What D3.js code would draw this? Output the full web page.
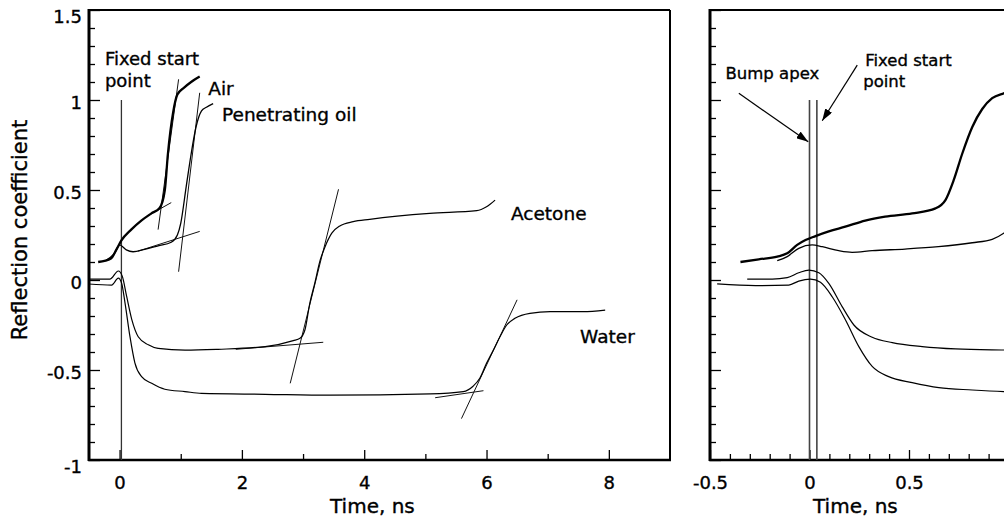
<!DOCTYPE html>
<html>
<head>
<meta charset="utf-8">
<script src="https://cdn.jsdelivr.net/npm/d3@7"></script>
<style>
  body { margin: 0; background: #fff; }
  text { font-family: "DejaVu Sans", sans-serif; fill: #000; stroke: #000; stroke-width: 0.35px; }
</style>
</head>
<body>
<script>
// Reflection coefficient traces, [time ns, coefficient]
// wide view (left panel)
var airWide = [[-0.35,0.10],[-0.14,0.12],[-0.05,0.17],[0.03,0.22],[0.19,0.28],[0.355,0.33],[0.52,0.37],[0.655,0.40],
  [0.74,0.50],[0.79,0.70],[0.875,0.93],[0.945,1.03],[1.06,1.07],[1.17,1.10],[1.31,1.13]];
var oilWide = [[-0.22,0.11],[-0.08,0.15],[0.0,0.195],[0.11,0.167],[0.22,0.157],[0.41,0.17],[0.63,0.19],[0.845,0.21],
  [0.945,0.25],[1.0,0.315],[1.09,0.52],[1.17,0.70],[1.25,0.85],[1.34,0.94],[1.42,0.96],[1.53,0.98]];
var acetoneWide = [[-0.51,0.005],[-0.16,0.005],[-0.02,0.05],[0.045,0.02],[0.115,-0.09],[0.2,-0.22],[0.305,-0.315],
  [0.47,-0.36],[0.63,-0.38],[1.07,-0.39],[1.61,-0.385],[2.38,-0.37],[2.84,-0.337],[2.95,-0.324],[3.03,-0.278],
  [3.11,-0.13],[3.19,-0.02],[3.28,0.11],[3.36,0.185],[3.47,0.26],[3.6,0.30],[3.82,0.324],[4.09,0.337],[5.07,0.37],
  [5.84,0.385],[6.0,0.407],[6.14,0.444]];
var waterWide = [[-0.51,-0.022],[-0.13,-0.028],[-0.02,0.01],[0.035,-0.02],[0.09,-0.13],[0.17,-0.315],[0.25,-0.46],
  [0.36,-0.537],[0.525,-0.574],[0.74,-0.607],[1.07,-0.62],[1.34,-0.63],[2.38,-0.635],[3.44,-0.64],[5.08,-0.633],
  [5.62,-0.62],[5.78,-0.59],[5.89,-0.546],[6.0,-0.463],[6.11,-0.39],[6.22,-0.315],[6.33,-0.25],[6.465,-0.213],
  [6.71,-0.185],[7.04,-0.176],[7.58,-0.176],[7.94,-0.167]];

// fitted tangent lines (two end points each)
var tangentsWide = [
  [[0.63,0.28],[0.965,1.115]], [[0.45,0.355],[0.845,0.43]],
  [[0.965,0.046],[1.31,1.04]], [[0.3,0.16],[1.31,0.27]],
  [[2.79,-0.574],[3.58,0.504]], [[1.9,-0.385],[3.33,-0.346]],
  [[5.59,-0.77],[6.5,-0.11]], [[5.16,-0.654],[5.95,-0.615]]
];

// close-up view (right panel)
var airZoom = [[-0.347,0.10],[-0.255,0.115],[-0.162,0.13],[-0.112,0.148],[-0.062,0.195],[-0.02,0.222],[0.03,0.244],
  [0.097,0.27],[0.18,0.296],[0.28,0.33],[0.38,0.352],[0.516,0.37],[0.633,0.398],[0.683,0.444],[0.725,0.556],
  [0.767,0.70],[0.818,0.85],[0.868,0.95],[0.918,1.01],[0.976,1.037],[1.03,1.055]];
var oilZoom = [[-0.162,0.107],[-0.112,0.13],[-0.054,0.176],[0.013,0.195],[0.064,0.185],[0.147,0.163],[0.214,0.154],
  [0.315,0.163],[0.48,0.172],[0.648,0.185],[0.818,0.207],[0.918,0.226],[0.976,0.26],[1.03,0.31]];
var acetoneZoom = [[-0.313,0.005],[-0.187,0.005],[-0.112,0.013],[-0.054,0.04],[-0.003,0.055],[0.047,0.04],
  [0.097,-0.019],[0.164,-0.148],[0.223,-0.25],[0.315,-0.318],[0.416,-0.348],[0.566,-0.37],[0.734,-0.383],
  [0.976,-0.389],[1.03,-0.39]];
var waterZoom = [[-0.464,-0.022],[-0.271,-0.031],[-0.104,-0.028],[-0.054,-0.006],[0.005,0.005],[0.055,-0.013],
  [0.114,-0.093],[0.181,-0.222],[0.248,-0.37],[0.315,-0.48],[0.398,-0.537],[0.516,-0.57],[0.65,-0.598],
  [0.818,-0.611],[0.976,-0.62],[1.03,-0.622]];

// marker times
var fixedStartWide = 0.03;
var bumpApexZoom = 0.0;
var fixedStartZoom = 0.037;

// ticks
var yMajorTicks = [-1, -0.5, 0, 0.5, 1, 1.5];
var yTickLabels = ["-1", "-0.5", "0", "0.5", "1", "1.5"];
var xMajorWide = [0, 2, 4, 6, 8];
var xMinorWide = [1, 3, 5, 7];
var xMajorZoom = [-0.5, 0, 0.5, 1];
var xTickLabelsZoom = ["-0.5", "0", "0.5", ""];

var svgWidth = 1004;
var svgHeight = 525;

var svg = d3.select("body")
  .append("svg")
  .attr("width", svgWidth)
  .attr("height", svgHeight);

var plotTop = 10, plotBottom = 460;

var yScale = d3.scaleLinear().domain([-1, 1.5]).range([plotBottom, plotTop]);
var xWide = d3.scaleLinear().domain([-0.5, 9]).range([89, 670]);
var xZoom = d3.scaleLinear().domain([-0.5, 1.5]).range([710, 1108]);

// minor tick values every 0.1
function minorTicks(lo, hi, majors) {
  return d3.range(Math.round(lo * 10), Math.round(hi * 10) + 1)
    .map(d => d / 10)
    .filter(d => majors.indexOf(d) < 0);
}

function drawPanel(id, x, xMajor, xMinor, xLabels, showYLabels) {
  var x0 = x.range()[0], x1 = x.range()[1];
  var g = svg.append("g");

  svg.append("clipPath").attr("id", id)
    .append("rect")
    .attr("x", x0).attr("y", plotTop)
    .attr("width", x1 - x0).attr("height", plotBottom - plotTop);

  // y ticks (inward)
  var yMinor = minorTicks(-1, 1.5, yMajorTicks);
  g.append("g").attr("transform", `translate(${x0},0)`)
    .call(d3.axisLeft(yScale).tickValues(yMinor).tickSize(-6).tickFormat(""))
    .call(a => a.select(".domain").remove());
  var yAx = g.append("g").attr("transform", `translate(${x0},0)`)
    .call(d3.axisLeft(yScale).tickValues(yMajorTicks).tickSize(-11).tickPadding(7)
      .tickFormat((d, i) => showYLabels ? yTickLabels[i] : ""));
  yAx.select(".domain").remove();
  yAx.selectAll("text")
    .attr("font-size", 18)
    .attr("font-family", "DejaVu Sans")
    .attr("dy", null)
    .attr("dominant-baseline", "central")
    .attr("y", d => (d === 1.5 || d === -1) ? 6 : 2);

  // x ticks (inward)
  g.append("g").attr("transform", `translate(0,${plotBottom})`)
    .call(d3.axisBottom(x).tickValues(xMinor).tickSize(-6).tickFormat(""))
    .call(a => a.select(".domain").remove());
  var xAx = g.append("g").attr("transform", `translate(0,${plotBottom})`)
    .call(d3.axisBottom(x).tickValues(xMajor).tickSize(-10).tickPadding(0)
      .tickFormat((d, i) => xLabels[i]));
  xAx.select(".domain").remove();
  xAx.selectAll("text")
    .attr("font-size", 18)
    .attr("font-family", "DejaVu Sans")
    .attr("dy", null)
    .attr("y", 29);
  g.selectAll(".tick line").attr("stroke", "#000").attr("stroke-width", 1.3);

  // frame
  g.append("line").attr("x1", x0).attr("x2", x1).attr("y1", plotTop).attr("y2", plotTop)
    .attr("stroke", "#000").attr("stroke-width", 2);
  g.append("line").attr("x1", x1).attr("x2", x1).attr("y1", plotTop).attr("y2", plotBottom)
    .attr("stroke", "#000").attr("stroke-width", 2);
  g.append("line").attr("x1", x0 - 1).attr("x2", x1 + 1).attr("y1", plotBottom).attr("y2", plotBottom)
    .attr("stroke", "#000").attr("stroke-width", 2.5);
  g.append("line").attr("x1", x0).attr("x2", x0).attr("y1", plotTop - 1).attr("y2", plotBottom + 1)
    .attr("stroke", "#000").attr("stroke-width", 3);

  var plot = svg.append("g").attr("clip-path", `url(#${id})`);
  return plot;
}

function lineGen(x) {
  return d3.line()
    .x(d => x(d[0]))
    .y(d => yScale(d[1]))
    .curve(d3.curveMonotoneX);
}

// ---- left panel ----
var wideLabels = xMajorWide.map(String);
var left = drawPanel("clipWide", xWide, xMajorWide, xMinorWide, wideLabels, true);
var lineWide = lineGen(xWide);

left.append("line")
  .attr("x1", xWide(fixedStartWide)).attr("x2", xWide(fixedStartWide))
  .attr("y1", yScale(1)).attr("y2", yScale(-1))
  .attr("stroke", "#333").attr("stroke-width", 1.3);

left.selectAll(".tangent")
  .data(tangentsWide)
  .enter().append("line")
  .attr("class", "tangent")
  .attr("x1", d => xWide(d[0][0])).attr("y1", d => yScale(d[0][1]))
  .attr("x2", d => xWide(d[1][0])).attr("y2", d => yScale(d[1][1]))
  .attr("stroke", "#111").attr("stroke-width", 1);

[[oilWide, 1.3], [acetoneWide, 1.2], [waterWide, 1.2], [airWide, 2.3]].forEach(function(s) {
  left.append("path")
    .datum(s[0])
    .attr("d", lineWide)
    .attr("fill", "none")
    .attr("stroke", "#000")
    .attr("stroke-width", s[1]);
});

// labels, left panel
var wideNotes = [
  ["Fixed start", -0.24, 1.192, 18],
  ["point", -0.24, 1.072, 18],
  ["Air", 1.45, 1.03, 18.5],
  ["Penetrating oil", 1.675, 0.883, 18.5],
  ["Acetone", 6.40, 0.336, 18.5],
  ["Water", 7.53, -0.35, 18.5]
];
svg.selectAll(".noteWide")
  .data(wideNotes)
  .enter().append("text")
  .attr("class", "noteWide")
  .attr("x", d => xWide(d[1]))
  .attr("y", d => yScale(d[2]))
  .attr("font-size", d => d[3])
  .text(d => d[0]);

// axis titles
svg.append("text")
  .attr("transform", "translate(27,230) rotate(-90)")
  .attr("text-anchor", "middle")
  .attr("font-size", 21)
  .text("Reflection coefficient");

svg.append("text")
  .attr("x", 330).attr("y", 513)
  .attr("font-size", 20)
  .text("Time, ns");

// ---- right panel ----
var right = drawPanel("clipZoom", xZoom, xMajorZoom, minorTicks(-0.5, 1.5, xMajorZoom), xTickLabelsZoom, false);
var lineZoom = lineGen(xZoom);

[bumpApexZoom, fixedStartZoom].forEach(function(t) {
  right.append("line")
    .attr("x1", xZoom(t)).attr("x2", xZoom(t))
    .attr("y1", yScale(1)).attr("y2", yScale(-1))
    .attr("stroke", "#444").attr("stroke-width", 1.6);
});

[[oilZoom, 1.3], [acetoneZoom, 1.2], [waterZoom, 1.2], [airZoom, 2.3]].forEach(function(s) {
  right.append("path")
    .datum(s[0])
    .attr("d", lineZoom)
    .attr("fill", "none")
    .attr("stroke", "#000")
    .attr("stroke-width", s[1]);
});

svg.append("defs").append("marker")
  .attr("id", "arrow")
  .attr("viewBox", "0 0 12 8")
  .attr("refX", 12).attr("refY", 4)
  .attr("markerWidth", 12).attr("markerHeight", 8)
  .attr("markerUnits", "userSpaceOnUse")
  .attr("orient", "auto")
  .append("path")
  .attr("d", "M0,0L12,4L0,8Z")
  .attr("fill", "#000");

var arrowsZoom = [
  [[-0.355, 1.037], [-0.0065, 0.768]],
  [[0.24, 1.194], [0.064, 0.885]]
];
svg.selectAll(".arrow")
  .data(arrowsZoom)
  .enter().append("line")
  .attr("class", "arrow")
  .attr("x1", d => xZoom(d[0][0])).attr("y1", d => yScale(d[0][1]))
  .attr("x2", d => xZoom(d[1][0])).attr("y2", d => yScale(d[1][1]))
  .attr("stroke", "#000").attr("stroke-width", 1.2)
  .attr("marker-end", "url(#arrow)");

var zoomNotes = [
  ["Bump apex", -0.422, 1.117],
  ["Fixed start", 0.28, 1.189],
  ["point", 0.27, 1.072]
];
svg.selectAll(".noteZoom")
  .data(zoomNotes)
  .enter().append("text")
  .attr("class", "noteZoom")
  .attr("x", d => xZoom(d[1]))
  .attr("y", d => yScale(d[2]))
  .attr("font-size", 16.5)
  .text(d => d[0]);

svg.append("text")
  .attr("x", 813).attr("y", 513)
  .attr("font-size", 20)
  .text("Time, ns");
</script>
</body>
</html>
